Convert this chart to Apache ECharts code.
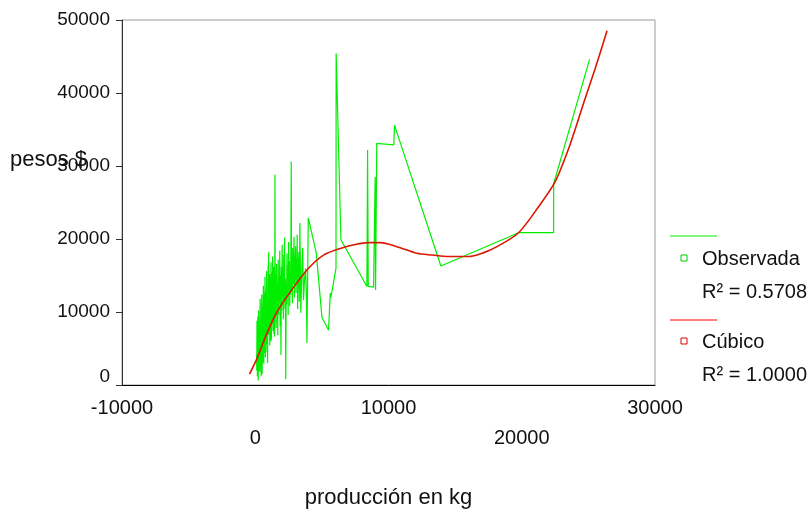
<!DOCTYPE html>
<html>
<head>
<meta charset="utf-8">
<script src="https://cdn.jsdelivr.net/npm/echarts@6/dist/echarts.min.js"></script>
<style>html,body{margin:0;padding:0;background:#fff;}#c{width:810px;height:512px;}</style>
</head>
<body>
<div id="c"></div>
<script>
// Observed series (producción en kg vs pesos $)
var obsX = [100,130,160,190,220,250,280,310,340,370,400,430,460,490,520,550,580,610,640,670,700,730,760,790,820,850,880,910,940,970,1000,1030,1060,1090,1120,1150,1180,1210,1240,1270,1300,1330,1360,1390,1420,1450,1480,1510,1540,1570,1600,1630,1660,1690,1720,1750,1780,1810,1840,1870,1900,1930,1960,1990,2020,2050,2080,2110,2140,2170,2200,2230,2260,2290,2320,2350,2380,2410,2440,2470,2500,2530,2560,2590,2620,2650,2680,2700,2730,2760,2790,2820,2850,2880,2910,2940,2970,3000,3030,3060,3090,3120,3150,3180,3210,3240,3270,3300,3330,3350,3420,3500,3560,3620,3700,3780,3840,3880,3980,4580,5010,5500,5630,5680,6060,6070,6430,8380,8430,8480,8880,9000,9030,9120,10400,10450,13930,19760,22390,22400,25090];
var obsY = [4200,8800,1200,9400,600,10200,3300,7900,1800,11800,2600,9000,4300,12400,1500,10600,5200,13600,2900,11200,6100,14800,3800,12000,7300,15600,4500,11800,8200,16400,18200,6900,13400,5400,14600,8600,16800,6200,13000,9800,17600,7400,14200,10400,15800,6600,28800,9200,15200,7800,16600,10800,13800,6800,17200,9600,14600,11400,18400,8000,15000,4100,16200,10200,19200,12200,15800,9000,17800,11600,20200,10400,14600,800,13800,11000,18000,12600,16400,9600,19600,13000,17000,10800,15400,12400,20800,30600,12800,17400,11200,18800,13800,16200,20300,12000,17800,14400,19000,12600,16800,14800,20600,10400,17400,13600,18200,11400,16600,22200,9900,16000,18800,11600,14600,16000,12000,5750,22900,18100,9200,7500,12600,12000,16000,45400,19900,13500,32200,13500,13400,28500,13000,33100,32900,35600,16300,20860,20860,27600,44600];
// Additional observed points inside the dense low-production cluster
var obsX2 = [115,145,175,205,235,265,295,325,355,385,415,445,475,505,535,565,595,625,655,685,715,745,775,805,835,865,895,925,955,985,1015,1045,1075,1105,1135,1165,1195,1225,1255,1285,1315,1345,1375,1405,1435,1465,1495];
var obsY2 = [2000,6500,3400,7200,4800,1900,8600,5400,9800,3900,7000,1200,10400,6200,8400,3200,11000,7800,12600,4400,9600,6800,13000,5600,10800,8000,12200,3000,14000,9400,11600,7600,15200,9000,12400,6000,13800,10600,15400,8400,12800,9200,16200,7000,12000,10000,13600];
// Cubic fit
var fitX = [-430,75,880,1630,2800,4000,5130,6380,7500,8500,9380,10630,12130,13300,14500,16000,17100,18140,19760,21260,22510,23600,24640,25500,26400];
var fitY = [1500,3400,7100,10000,13200,16000,17800,18700,19250,19500,19500,18950,18040,17800,17600,17600,18100,18950,20860,24420,27850,32800,38600,43300,48530];
// Axis ticks
var xTicks = [-10000,0,10000,20000,30000];
var yTicks = [0,10000,20000,30000,40000,50000];
var legendNames = ['Observada','Cúbico'];
var r2Labels = ['R² = 0.5708','R² = 1.0000'];

var FONT = "'Liberation Sans', Arial, sans-serif";
function pairs(xs, ys){ return xs.map(function(x,i){ return [x, ys[i]]; }); }
var obsData = pairs(obsX, obsY).concat(pairs(obsX2, obsY2)).sort(function(a,b){ return a[0]-b[0]; });

var chart = echarts.init(document.getElementById('c'), null, {renderer:'canvas'});
chart.setOption({
  animation:false,
  backgroundColor:'#ffffff',
  grid:{left:122, right:155, top:20, bottom:127, containLabel:false, outerBoundsMode:'none',
        show:true, borderColor:'#9a9a9a', borderWidth:1, backgroundColor:'transparent'},
  xAxis:{
    type:'value', min:xTicks[0], max:xTicks[xTicks.length-1], interval:10000,
    splitLine:{show:false},
    axisLine:{show:true, onZero:false, lineStyle:{color:'#000', width:1}},
    axisTick:{show:false},
    axisLabel:{
      show:true, showMinLabel:true, showMaxLabel:true, margin:8,
      fontFamily:FONT, fontSize:20, color:'#111', lineHeight:30,
      formatter:function(v){ return (Math.round(v/10000) % 2 === 0) ? '\n' + String(v) : String(v); }
    },
    name:'producción en kg', nameLocation:'middle', nameGap:102,
    nameTextStyle:{fontFamily:FONT, fontSize:22, color:'#111'}
  },
  yAxis:{
    type:'value', min:yTicks[0], max:yTicks[yTicks.length-1], interval:10000,
    splitLine:{show:false},
    axisLine:{show:true, onZero:false, lineStyle:{color:'#333', width:1}},
    axisTick:{show:true, inside:false, length:6, lineStyle:{color:'#333'}},
    axisLabel:{
      margin:12, fontFamily:FONT, fontSize:19, color:'#111',
      formatter:function(v){ return v === 0 ? '{z|0}' : String(v); },
      rich:{z:{fontFamily:FONT, fontSize:19, color:'#111', padding:[0,0,17,0]}}
    }
  },
  series:[
    {name:legendNames[0], type:'line', data:obsData, showSymbol:false, symbol:'none',
     lineStyle:{color:'#00ee00', width:1.2}, z:2},
    {name:legendNames[1], type:'line', data:pairs(fitX, fitY), showSymbol:false, symbol:'none', smooth:0.3,
     lineStyle:{color:'#dd1800', width:1.6}, z:3}
  ],
  graphic:[
    {type:'text', left:10, top:149, style:{text:'pesos $', fontFamily:FONT, fontSize:22, fill:'#111'}},
    {type:'line', shape:{x1:670, y1:236, x2:717, y2:236}, style:{stroke:'#00ee00', lineWidth:1}},
    {type:'rect', shape:{x:681, y:255, width:6, height:6}, style:{fill:'#fff', stroke:'#00cc00', lineWidth:1}},
    {type:'text', x:702, y:259, style:{text:legendNames[0], fontFamily:FONT, fontSize:20, fill:'#111', textVerticalAlign:'middle'}},
    {type:'text', x:702, y:292, style:{text:r2Labels[0], fontFamily:FONT, fontSize:20, fill:'#111', textVerticalAlign:'middle'}},
    {type:'line', shape:{x1:670, y1:320, x2:717, y2:320}, style:{stroke:'#ff0000', lineWidth:1}},
    {type:'rect', shape:{x:681, y:338, width:6, height:6}, style:{fill:'#fff', stroke:'#dd0000', lineWidth:1}},
    {type:'text', x:702, y:342, style:{text:legendNames[1], fontFamily:FONT, fontSize:20, fill:'#111', textVerticalAlign:'middle'}},
    {type:'text', x:702, y:375, style:{text:r2Labels[1], fontFamily:FONT, fontSize:20, fill:'#111', textVerticalAlign:'middle'}}
  ]
});
</script>
</body>
</html>
